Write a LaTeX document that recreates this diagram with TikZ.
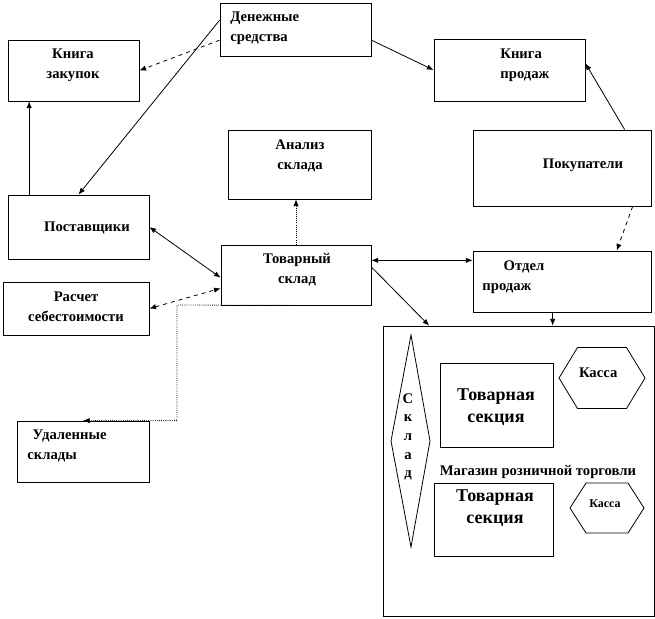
\documentclass[tikz,border=0pt]{standalone}
\usepackage{fontspec}
\setmainfont{Liberation Serif}
\usetikzlibrary{arrows.meta}
\begin{document}
\begin{tikzpicture}[x=0.75pt,y=-0.75pt,line width=0.6pt,
    blok/.style={draw,rectangle,inner sep=0pt},
    txt/.style={font=\bfseries\fontsize{11}{15}\selectfont,inner sep=0pt},
    sektxt/.style={font=\bfseries\fontsize{13.5}{16.5}\selectfont,inner sep=0pt,align=center},
    >={Latex[length=5pt,width=4pt]}]
    \useasboundingbox (0,0) rectangle (655,618);
    \foreach \nm/\xa/\ya/\xb/\yb in {
        dengi/220/3/371/56,
        zakup/8/40/139/101,
        prod/434/39/585/101,
        analiz/228/130/371/199,
        pokup/473/130/651/206,
        post/8/195/149/259,
        tovsk/221/245/371/305,
        rasch/3/282/149/335,
        otdel/473/251/651/312,
        udal/17/421/149/482,
        mag/383/326/654/616,
        sek1/440/363/553/447,
        sek2/434/483/553/556
    } {
        \node[blok,minimum width={(\xb-\xa)*0.75pt},minimum height={(\yb-\ya)*0.75pt}]
            (\nm) at ({(\xa+\xb)/2},{(\ya+\yb)/2}) {};
    }
    \foreach \nm/\x/\y/\tekst in {
        tzakup/73/65/Книга\\закупок,
        tanaliz/300/156/Анализ\\склада,
        tpokup/583/165/Покупатели,
        tpost/87/228/Поставщики,
        ttovsk/297/270/Товарный\\склад,
        trasch/76/307/Расчет\\себестоимости,
        tmag/538/472/Магазин розничной торговли,
        tkassa/600/373/Касса
    } {
        \node[txt,align=center] (\nm) at (\x,\y) {\tekst};
    }
    \foreach \nm/\x/\y/\tekst in {
        tdengi/230/28/Денежные\\средства,
        tprod/500/65/Книга\\продаж,
        totdel/482/277/\hspace*{16pt}Отдел\\продаж,
        tudal/27/446/\hspace*{4pt}Удаленные\\склады
    } {
        \node[txt,align=left,anchor=west] (\nm) at (\x,\y) {\tekst};
    }
    \node[sektxt] (tsek1) at (496,407) {Товарная\\секция};
    \node[sektxt] (tsek2) at (495,508) {Товарная\\секция};
    \node[txt,font=\bfseries\fontsize{9}{11}\selectfont] (tkassa2) at (605,504) {Касса};
    \node[txt,align=center,font=\bfseries\fontsize{11}{14}\selectfont] (tsklad) at (408,437) {С\\к\\л\\а\\д};
    \draw (411,335) -- (430,441) -- (411,547) -- (391,441) -- cycle;
    \foreach \cx/\cy/\hw/\tw/\hh in {602/378/43/24.5/30.5, 607/508/37/21/25} {
        \draw ({\cx-\hw},\cy) -- ({\cx-\tw},{\cy-\hh}) -- ({\cx+\tw},{\cy-\hh}) -- ({\cx+\hw},\cy)
            -- ({\cx+\tw},{\cy+\hh}) -- ({\cx-\tw},{\cy+\hh}) -- cycle;
    }
    \draw[dashed,->] ([yshift=-8pt]dengi.west) -- (zakup.east);
    \draw[->] ([yshift=7pt]dengi.west) -- (post.north);
    \draw[->] ([yshift=-8pt]dengi.east) -- (prod.west);
    \coordinate (pz) at ([xshift=-37pt]post.north);
    \draw[->] (pz) -- (pz |- zakup.south);
    \draw[->] ([xshift=47pt]pokup.north) -- ([yshift=5pt]prod.east);
    \draw[dashed,->] ([xshift=53pt]pokup.south) -- ([xshift=41pt]otdel.north);
    \draw[densely dotted,->] (tovsk.north) -- (tovsk.north |- analiz.south);
    \draw[<->] (post.east) -- ([yshift=-2pt]tovsk.west);
    \draw[dashed,<->] (rasch.east) -- ([yshift=-10pt]tovsk.west);
    \coordinate (tsr) at ([yshift=11pt]tovsk.east);
    \draw[<->] (tsr) -- (tsr -| otdel.west);
    \draw[->] ([yshift=6pt]tovsk.east) -- ([xshift=-67pt]mag.north);
    \coordinate (om) at ([xshift=-7pt]otdel.south);
    \draw[->] (om) -- (om |- mag.north);
    \coordinate (ub) at (177,305);
    \draw[densely dotted,->] (tovsk.south) -- (ub) |- (udal.north);
\end{tikzpicture}
\end{document}
